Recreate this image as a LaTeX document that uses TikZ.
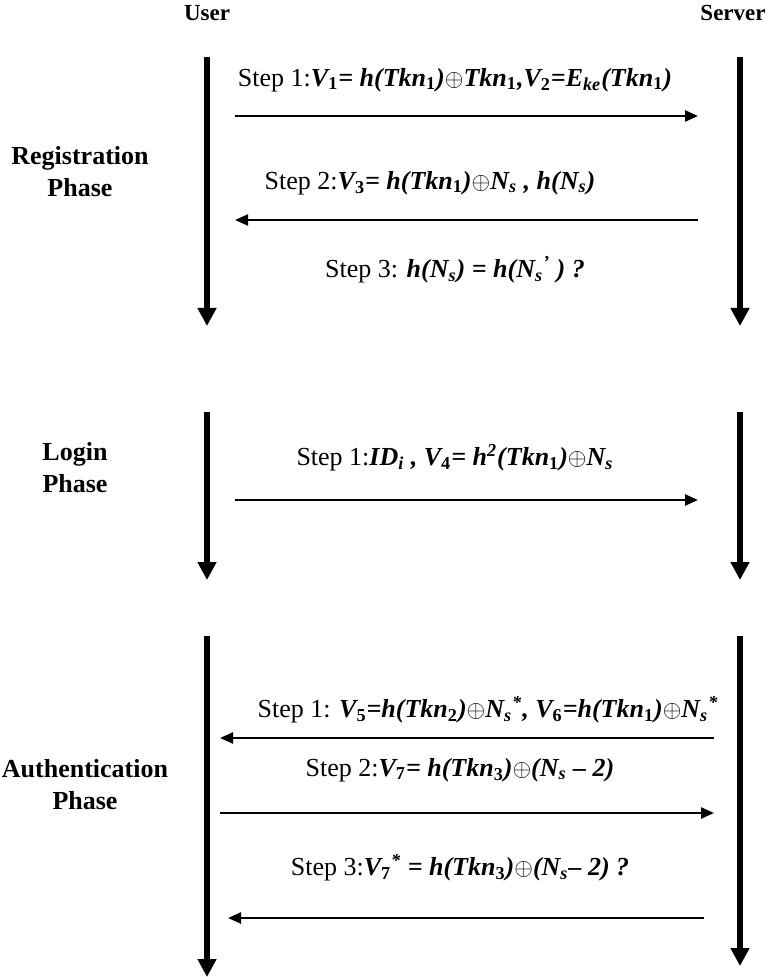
\documentclass[tikz,border=0pt]{standalone}
\usepackage{fontspec}
\setmainfont{Liberation Serif}
\usepackage{tikz}
\usetikzlibrary{
	arrows.meta,
	positioning,
}
\newcommand{\bi}[1]{\textbf{\textit{#1}}}
\newcommand{\low}[1]{\textsubscript{\textbf{\upshape #1}}}
\newcommand{\lowit}[1]{\textsubscript{\textbf{\itshape #1}}}
\newcommand{\xor}{$\oplus$}
\tikzset{lifeline/.style={
	line width=3pt,
	-{Triangle[width=9pt,length=9pt]},
}}
\tikzset{msg/.style={
	line width=1.2pt,
	-{Triangle[width=5.5pt,length=6.5pt]},
}}
\tikzset{phase label/.style={
	font=\fontsize{13}{16}\selectfont\bfseries,
	align=center,
	inner sep=0pt,
}}
\tikzset{head label/.style={
	font=\fontsize{11.5}{13}\selectfont\bfseries,
	inner sep=0pt,
}}
\tikzset{step label/.style={
	font=\fontsize{13}{15}\selectfont,
	inner sep=0pt,
}}

\begin{document}
\begin{tikzpicture}[x=0.5pt,y=-0.5pt]
\useasboundingbox (0,0) rectangle (768,977);

\node[head label](user) at(207,13) {User};
\node[head label,anchor=east](server) at(766,13) {Server};

% lifelines of the three phases
\foreach \n/\t/\bu/\bs in {
	reg/57/326/326
	,login/412/580/580
	,auth/636/977/966
}{
	\coordinate(u-\n-top) at(207,\t);
	\coordinate(u-\n-bot) at(207,\bu);
	\coordinate(s-\n-top) at(740,\t);
	\coordinate(s-\n-bot) at(740,\bs);
	\draw[lifeline] (u-\n-top) -- (u-\n-bot);
	\draw[lifeline] (s-\n-top) -- (s-\n-bot);
}

\node[phase label](reg) at(80,172) {Registration\\Phase};
\node[phase label](login) at(75,468) {Login\\Phase};
\node[phase label](auth) at(85,785) {Authentication\\Phase};

% message ends
\foreach \m/\xa/\xb/\y in {
	m1/235/698/116
	,m2/698/235/220
	,m3/235/698/500
	,m4/714/220/738
	,m5/220/714/813
	,m6/704/228/918
}{
	\coordinate(\m-a) at(\xa,\y);
	\coordinate(\m-b) at(\xb,\y);
	\draw[msg] (\m-a) -- (\m-b);
}

\node[step label](st1) at(455,80) {Step 1:\bi{V\low{1}= h(Tkn\low{1})}\xor\bi{Tkn\low{1},V\low{2}=E\lowit{ke}(Tkn\low{1})}};
\node[step label](st2) at(430,183) {Step 2:\bi{V\low{3}= h(Tkn\low{1})}\xor\bi{N\lowit{s} , h(N\lowit{s})}};
\node[step label](st3) at(455,270) {Step 3: \bi{h(N\lowit{s}) = h(N\lowit{s}\textsuperscript{'} ) ?}};
\node[step label](st4) at(455,458) {Step 1:\bi{ID\lowit{i} , V\low{4}= h\textsuperscript{2}(Tkn\low{1})}\xor\bi{N\lowit{s}}};
\node[step label](st5) at(488,710) {Step 1: \bi{V\low{5}=h(Tkn\low{2})}\xor\bi{N\lowit{s}\textsuperscript{*}, V\low{6}=h(Tkn\low{1})}\xor\bi{N\lowit{s}\textsuperscript{*}}};
\node[step label](st6) at(460,770) {Step 2:\bi{V\low{7}= h(Tkn\low{3})}\xor\bi{(N\lowit{s} -- 2)}};
\node[step label](st7) at(460,868) {Step 3:\bi{V\low{7}\textsuperscript{*} = h(Tkn\low{3})}\xor\bi{(N\lowit{s}-- 2) ?}};
\end{tikzpicture}
\end{document}
